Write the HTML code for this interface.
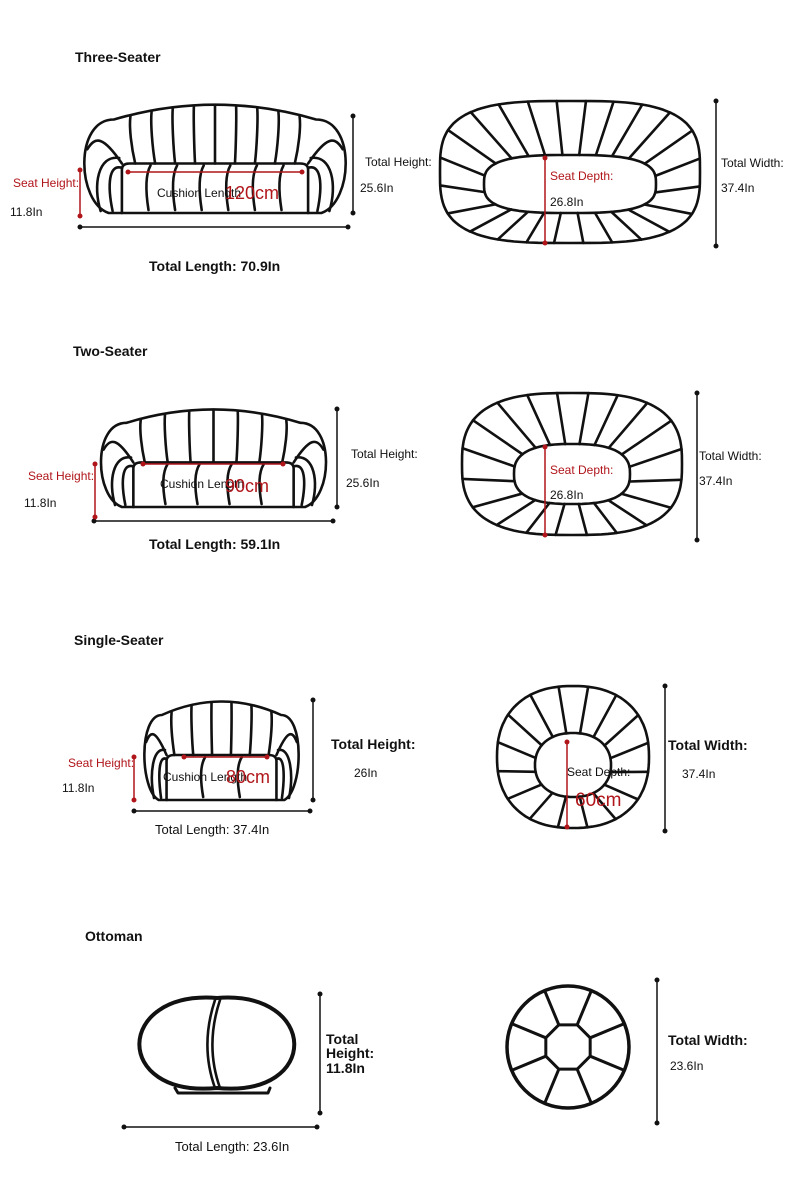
<!DOCTYPE html>
<html><head><meta charset="utf-8"><style>
html,body{margin:0;padding:0;background:#fff}
svg{display:block}
text{font-family:"Liberation Sans",Arial,sans-serif;fill:#111}
.r{fill:#b0151a}
</style></head><body>
<svg id="s" width="790" height="1195" viewBox="0 0 790 1195" xmlns="http://www.w3.org/2000/svg">
<g id="g" fill="none" stroke="#111" stroke-width="2.6" stroke-linecap="round" stroke-linejoin="round"></g>
<g id="dd" stroke-width="1.5"></g>
<text x="75" y="62" font-size="14" font-weight="bold">Three-Seater</text>
<text x="13" y="187" font-size="12" class="r">Seat Height:</text>
<text x="10" y="216" font-size="12">11.8In</text>
<text x="157" y="197" font-size="12">Cushion Length</text>
<text x="225" y="199" font-size="18" class="r">120cm</text>
<text x="149" y="271" font-size="14" font-weight="bold">Total Length: 70.9In</text>
<text x="365" y="166" font-size="12">Total Height:</text>
<text x="360" y="192" font-size="12">25.6In</text>
<text x="550" y="180" font-size="12" class="r">Seat Depth:</text>
<text x="550" y="206" font-size="12">26.8In</text>
<text x="721" y="167" font-size="12">Total Width:</text>
<text x="721" y="192" font-size="12">37.4In</text>

<text x="73" y="356" font-size="14" font-weight="bold">Two-Seater</text>
<text x="28" y="480" font-size="12" class="r">Seat Height:</text>
<text x="24" y="507" font-size="12">11.8In</text>
<text x="160" y="488" font-size="12">Cushion Length</text>
<text x="225" y="492" font-size="18" class="r">90cm</text>
<text x="149" y="549" font-size="14" font-weight="bold">Total Length: 59.1In</text>
<text x="351" y="458" font-size="12">Total Height:</text>
<text x="346" y="487" font-size="12">25.6In</text>
<text x="550" y="474" font-size="12" class="r">Seat Depth:</text>
<text x="550" y="499" font-size="12">26.8In</text>
<text x="699" y="460" font-size="12">Total Width:</text>
<text x="699" y="485" font-size="12">37.4In</text>

<text x="74" y="645" font-size="14" font-weight="bold">Single-Seater</text>
<text x="68" y="767" font-size="12" class="r">Seat Height:</text>
<text x="62" y="792" font-size="12">11.8In</text>
<text x="163" y="781" font-size="12">Cushion Length</text>
<text x="226" y="783" font-size="18" class="r">80cm</text>
<text x="155" y="834" font-size="13">Total Length: 37.4In</text>
<text x="331" y="749" font-size="14" font-weight="bold">Total Height:</text>
<text x="354" y="777" font-size="12">26In</text>
<text x="567" y="776" font-size="12">Seat Depth:</text>
<text x="575" y="806" font-size="19" class="r">60cm</text>
<text x="668" y="750" font-size="14" font-weight="bold">Total Width:</text>
<text x="682" y="778" font-size="12">37.4In</text>

<text x="85" y="941" font-size="14" font-weight="bold">Ottoman</text>
<text x="326" y="1044" font-size="14" font-weight="bold">Total</text>
<text x="326" y="1058" font-size="14" font-weight="bold">Height:</text>
<text x="326" y="1073" font-size="14" font-weight="bold">11.8In</text>
<text x="175" y="1151" font-size="13">Total Length: 23.6In</text>
<text x="668" y="1045" font-size="14" font-weight="bold">Total Width:</text>
<text x="670" y="1070" font-size="12">23.6In</text>
</svg>
<script>
(function(){
var g=document.getElementById('g'),dg=document.getElementById('dd'),NS='http://www.w3.org/2000/svg';
function el(p,t,a){var e=document.createElementNS(NS,t);for(var k in a)e.setAttribute(k,a[k]);p.appendChild(e);return e;}
function P(s,sw){var e=el(g,'path',{d:s});if(sw)e.setAttribute('stroke-width',sw);}
function dim(x1,y1,x2,y2,red){var c=red?'#b0151a':'#111';el(dg,'line',{x1:x1,y1:y1,x2:x2,y2:y2,stroke:c});el(dg,'circle',{cx:x1,cy:y1,r:2.5,fill:c});el(dg,'circle',{cx:x2,cy:y2,r:2.5,fill:c});}
function front(x0,y0,x1,y1,nb,ns){
 var w=x1-x0,h=y1-y0,sy=y0+0.55*h,sx0=x0+0.15*w,sx1=x1-0.15*w,A=y0+0.15*h;
 P('M'+(x0+0.1*w)+','+y1+' C'+(x0-0.02*w)+','+(y1-0.1*h)+' '+(x0-0.03*w)+','+A+' '+(x0+0.12*w)+','+A+
   ' Q'+(x0+w/2)+','+(y0-0.12*h)+' '+(x1-0.12*w)+','+A+
   ' C'+(x1+0.03*w)+','+A+' '+(x1+0.02*w)+','+(y1-0.1*h)+' '+(x1-0.1*w)+','+y1+' Z');
 P('M'+sx0+','+y1+' L'+sx0+','+(sy+6)+' Q'+sx0+','+sy+' '+(sx0+8)+','+sy+' L'+(sx1-8)+','+sy+' Q'+sx1+','+sy+' '+sx1+','+(sy+6)+' L'+sx1+','+y1);
 for(var i=1;i<ns;i++){var x=sx0+(sx1-sx0)*i/ns;P('M'+x+','+(y1-3)+' C'+(x-3)+','+(y1-0.2*h)+' '+(x-3)+','+(sy+0.1*h)+' '+(x+2)+','+(sy+2));}
 var bx0=x0+0.2*w,bx1=x1-0.2*w;
 for(var i=0;i<=nb;i++){var x=bx0+(bx1-bx0)*i/nb,off=(x-(x0+w/2))*0.06,xt=x+off,t=(xt-(x0+0.12*w))/(0.76*w),tp=A-0.54*h*t*(1-t)+1.5;
  P('M'+x+','+sy+' C'+(x+off*0.8)+','+(sy-0.15*h)+' '+(x+off*1.3)+','+(tp+0.1*h)+' '+xt+','+tp);}
 [[x0,1],[x1,-1]].forEach(function(a){var b=a[0],s=a[1];
  P('M'+(b+s*0.15*w)+','+sy+' C'+(b+s*0.08*w)+','+(y0+0.3*h)+' '+(b+s*0.05*w)+','+(y0+0.3*h)+' '+(b+s*0.02*w)+','+(y0+0.42*h));
  P('M'+(b+s*0.07*w)+','+(y1-2)+' C'+(b+s*0.04*w)+','+(y1-0.25*h)+' '+(b+s*0.06*w)+','+(sy-0.08*h)+' '+(b+s*0.14*w)+','+(sy-0.05*h));
  P('M'+(b+s*0.115*w)+','+(y1-2)+' C'+(b+s*0.095*w)+','+(y1-0.25*h)+' '+(b+s*0.1*w)+','+(sy)+' '+(b+s*0.15*w)+','+(sy+0.04*h));
 });
}
function se(a,b,t,p){var c=Math.cos(t),s=Math.sin(t);return [a*Math.sign(c)*Math.pow(Math.abs(c),2/p),b*Math.sign(s)*Math.pow(Math.abs(s),2/p)];}
function pts(cx,cy,a,b,p){var r=[];for(var i=0;i<=720;i++){var q=se(a,b,i/720*2*Math.PI,p);r.push([cx+q[0],cy+q[1]]);}return r;}
function curve(r){var s='';for(var i=0;i<r.length;i+=6)s+=(i?'L':'M')+r[i][0].toFixed(1)+','+r[i][1].toFixed(1);return s+'Z';}
function atLen(r,f){var L=[0];for(var i=1;i<r.length;i++)L.push(L[i-1]+Math.hypot(r[i][0]-r[i-1][0],r[i][1]-r[i-1][1]));var T=L[L.length-1]*f;for(var i=1;i<r.length;i++)if(L[i]>=T)return r[i];return r[0];}
function topView(cx,cy,a,b,icx,icy,ia,ib,n,p,ip){
 var o=pts(cx,cy,a,b,p),q=pts(icx,icy,ia,ib,ip);
 P(curve(o));P(curve(q));
 for(var i=0;i<n;i++){var f=(i+0.5)/n,A=atLen(o,f),B=atLen(q,f);P('M'+A[0]+','+A[1]+'L'+B[0]+','+B[1]);}
}
front(82,103,348,213,8,7);
topView(570,172,130,71,570,184,86,29,24,3.2,3);
dim(353,116,353,213);dim(80,227,348,227);dim(80,170,80,216,1);dim(128,172,302,172,1);dim(545,158,545,243,1);dim(697,393,697,540);
dim(716,101,716,246);

front(99,408,328,507,6,5);
topView(572,464,110,71,572,474,58,30,20,2.8,2.6);
dim(337,409,337,507);dim(94,521,333,521);dim(95,464,95,517,1);dim(143,464,283,464,1);dim(545,447,545,535,1);

front(143,700,300,800,5,3);
topView(573,757,76,71,573,765,38,32,16,2.3,2.2);
dim(313,700,313,800);dim(134,811,310,811);dim(134,757,134,800,1);dim(184,757,267,757,1);dim(567,742,567,827,1);dim(665,686,665,831);

P('M217,998 C115,990 112,1098 217,1088 C322,1098 318,990 217,998 Z',4);
P('M215,1000 C205,1030 205,1060 215,1088');P('M220,1000 C210,1030 210,1060 220,1088');
P('M175,1088 L178,1093 L268,1093 L270,1088',3);
el(g,'circle',{cx:568,cy:1047,r:61,'stroke-width':3.5});
var oc='';for(var i=0;i<8;i++){var t=(i+0.5)/8*2*Math.PI;oc+=(i?'L':'M')+(568+24*Math.cos(t))+','+(1047+24*Math.sin(t));
 P('M'+(568+24*Math.cos(t))+','+(1047+24*Math.sin(t))+'L'+(568+61*Math.cos(t))+','+(1047+61*Math.sin(t)),3);}
P(oc+'Z',3);
dim(320,994,320,1113);dim(124,1127,317,1127);dim(657,980,657,1123);
})();
</script>
</body></html>
